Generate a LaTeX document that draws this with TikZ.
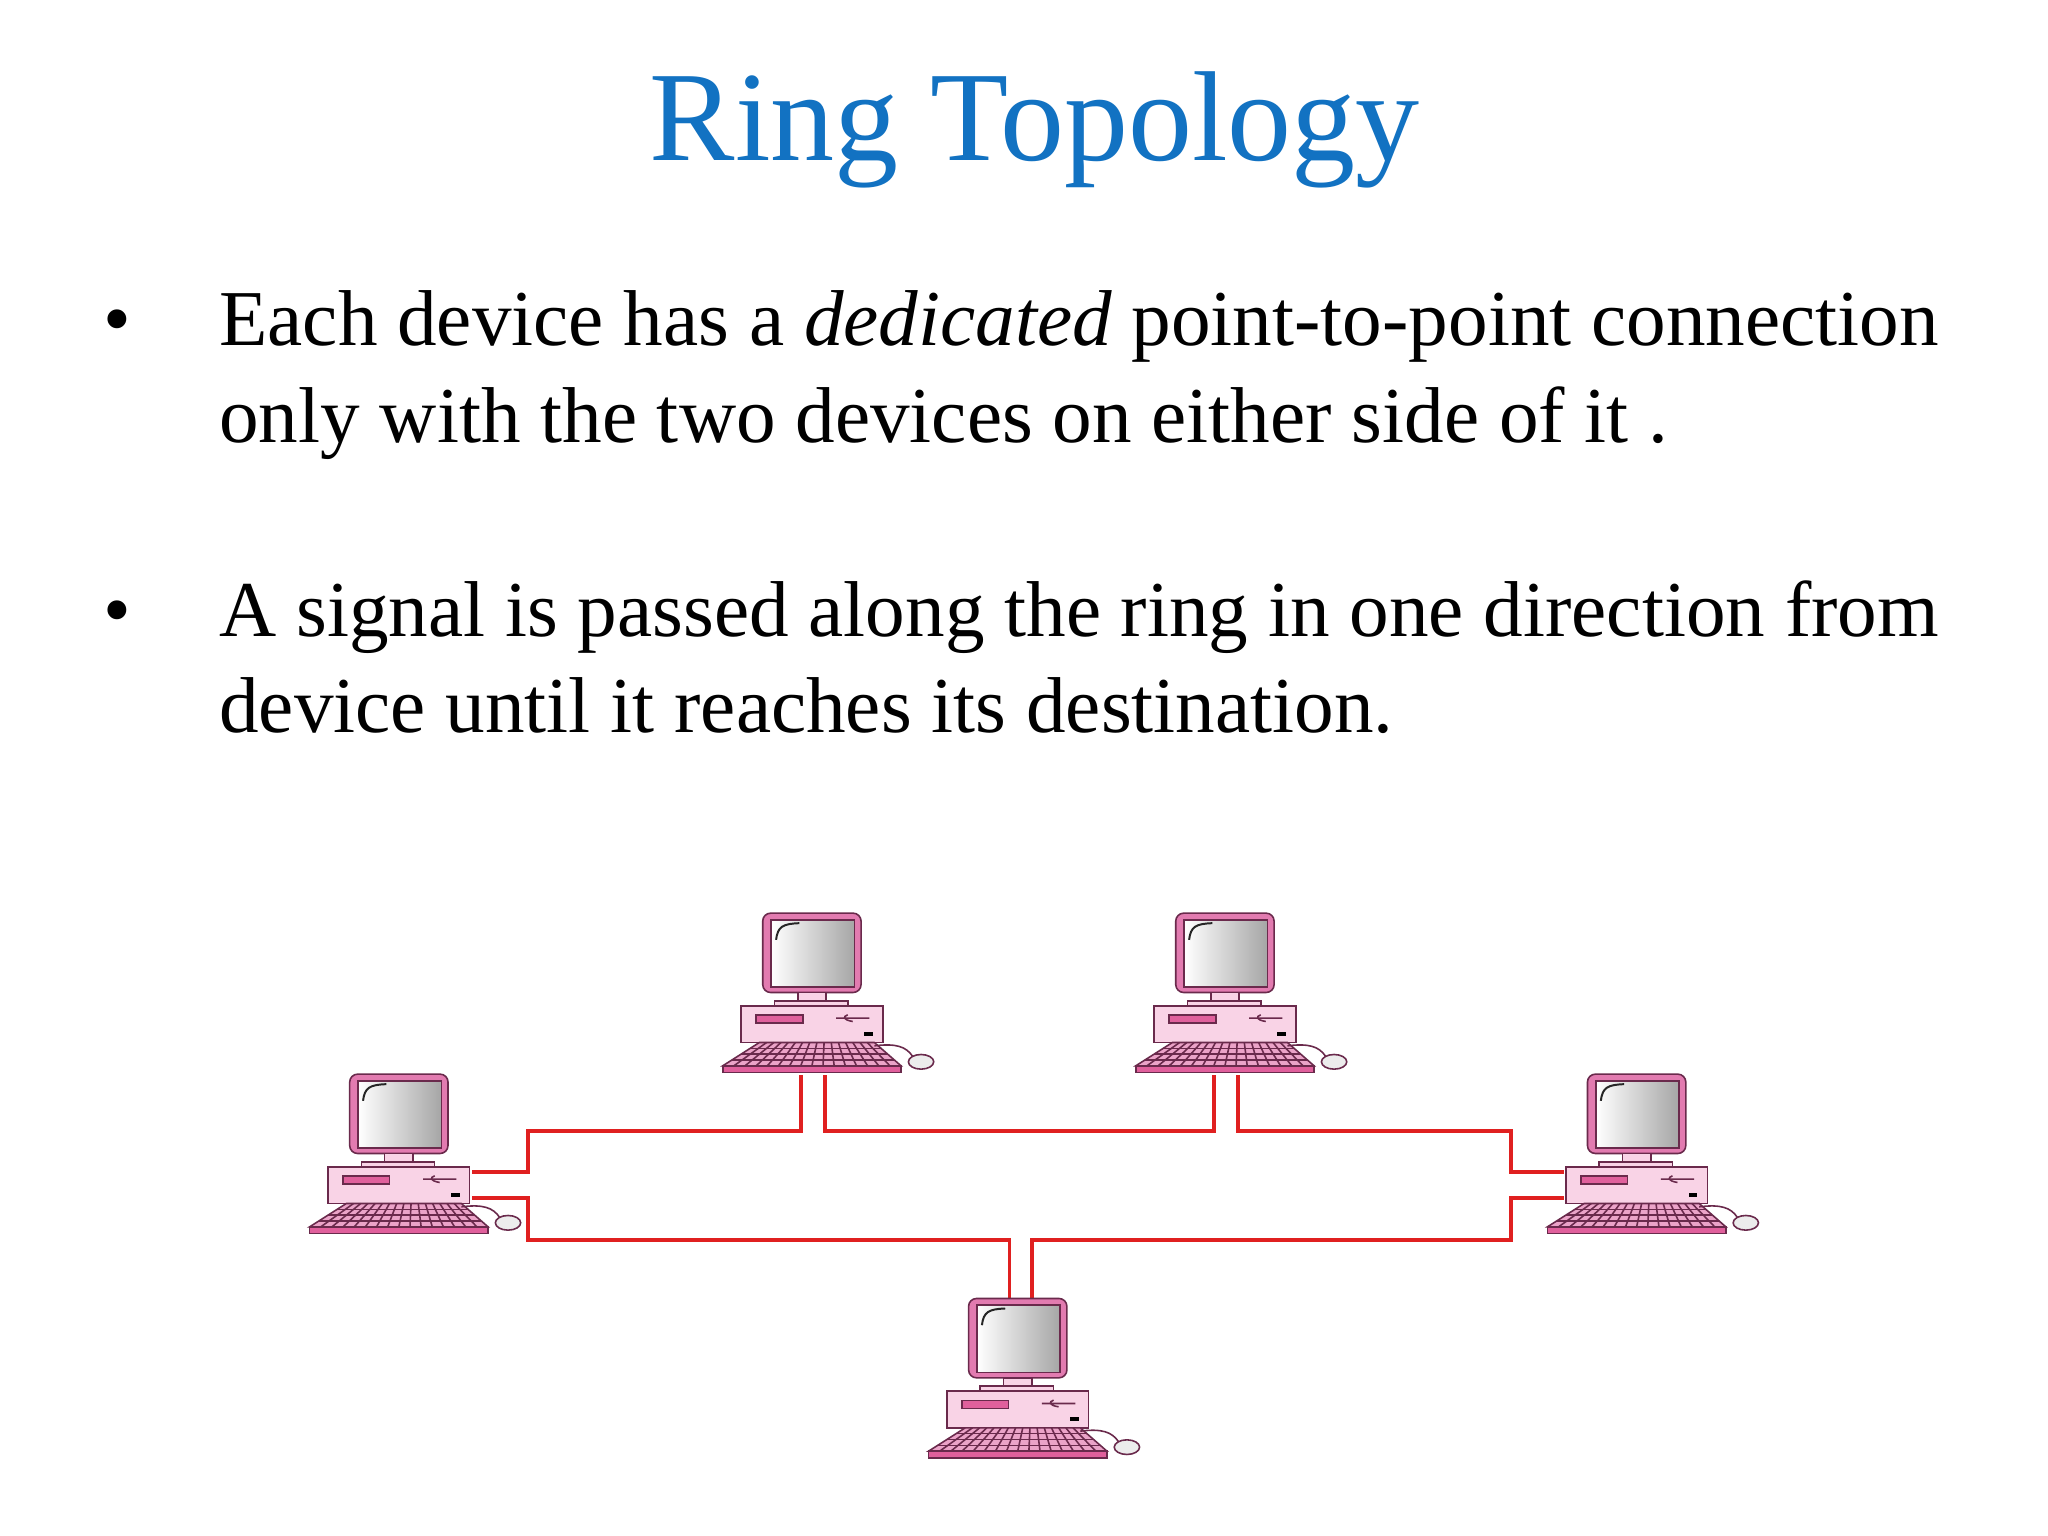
\documentclass[tikz,border=0pt]{standalone}
\usepackage{fontspec}
\setmainfont{Liberation Serif}
\definecolor{ttl}{HTML}{1272C2}
\definecolor{pkd}{HTML}{6A2A4C}
\definecolor{pkm}{HTML}{E27BB0}
\definecolor{pkl}{HTML}{F9D3E6}
\definecolor{pks}{HTML}{E0609C}
\definecolor{ringred}{HTML}{E02020}
\tikzset{
 txt/.style={anchor=base west,inner sep=0pt,font=\fontsize{60}{72}\selectfont},
 ring/.style={draw=ringred,line width=3pt},
 pc/.pic={
  \begin{scope}[scale=0.2526,line width=1.2pt,draw=pkd]
   \draw[fill=pkm,rounded corners=6] (0,0) rectangle (295,238);
   \shade[left color=white,right color=gray!70,draw=pkd] (25,20) rectangle (275,222);
   \draw[line width=1.5pt,gray!30!black] (40,80) .. controls (45,40) and (60,32) .. (110,30);
   \draw[fill=pkl] (105,238) rectangle (190,263);
   \draw[fill=pkl] (35,263) rectangle (255,280);
   \draw[fill=pkl] (-65,278) rectangle (360,388);
   \draw[fill=pks] (-20,306) rectangle (120,330);
   \draw (220,315) -- (320,315) (255,305) .. controls (240,310) and (240,320) .. (270,325);
   \fill[black] (305,356) rectangle (330,368);
   \draw[fill=pkm!70] (-10,388) -- (335,388) -- (415,458) -- (-120,458) -- cycle;
   \foreach \i in {1,...,3}{\draw ({-10-110*\i/4},{388+70*\i/4}) -- ({335+80*\i/4},{388+70*\i/4});}
   \foreach \i in {1,...,15}{\draw ({-10+345*\i/16},388) -- ({-120+535*\i/16},458);}
   \draw[fill=pks] (-120,458) rectangle (415,478);
   \draw (335,398) .. controls (400,390) and (430,400) .. (450,430);
   \draw[fill=gray!15] (475,446) ellipse [x radius=38,y radius=22];
  \end{scope}}
}
\begin{document}
\begin{tikzpicture}[x=1pt,y=-1pt]
\useasboundingbox[fill=white] (0,0) rectangle (1552,1164);
\node[anchor=base,inner sep=0pt,text=ttl,font=\fontsize{97}{110}\selectfont] (title) at (784,122) {Ring Topology};
\node[txt] (b1) at (78,262) {•};
\node[txt] (l1) at (166,262) {Each device has a \textit{dedicated} point-to-point connection};
\node[txt] (l2) at (166,335) {only with the two devices on either side of it .};
\node[txt] (b2) at (78,482) {•};
\node[txt] (l3) at (166,482) {A signal is passed along the ring in one direction from};
\node[txt] (l4) at (166,555) {device until it reaches its destination.};
% ring
\coordinate (lu) at (358,888); \coordinate (ll) at (358,908);
\coordinate (ma) at (607,815); \coordinate (mb) at (625,815);
\coordinate (na) at (920,815); \coordinate (nb) at (938,815);
\coordinate (ru) at (1185,888); \coordinate (rl) at (1185,908);
\coordinate (ba) at (765,985); \coordinate (bb) at (782,985);
\draw[ring] (lu) -- (400,888) -- (400,857) -| (ma);
\draw[ring] (mb) -- (625,857) -| (na);
\draw[ring] (nb) -- (938,857) -| (1145,888) -- (ru);
\draw[ring] (rl) -- (1145,908) |- (782,940) -- (bb);
\draw[ring] (ba) -- (765,940) -| (400,908) -- (ll);
\pic at (578,692) {pc};
\pic at (891,692) {pc};
\pic at (265,814) {pc};
\pic at (1203,814) {pc};
\pic at (734,984) {pc};
\end{tikzpicture}
\end{document}
